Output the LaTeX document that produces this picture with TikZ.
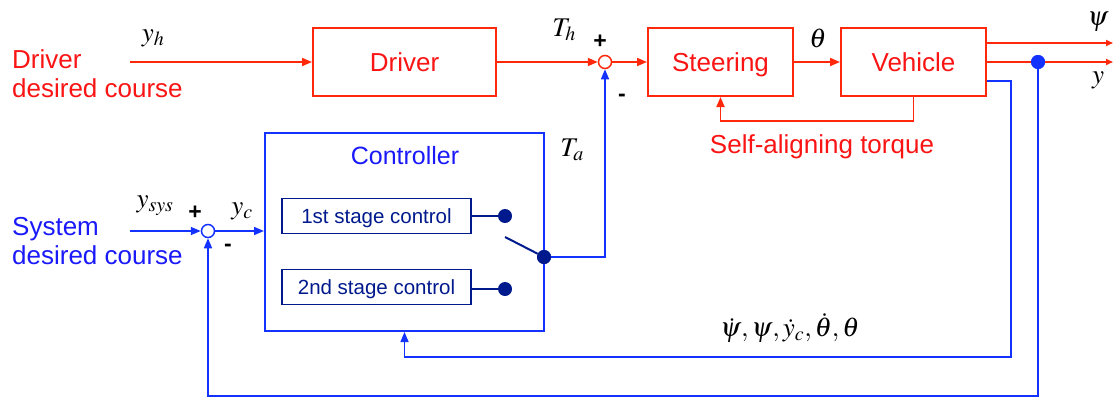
\documentclass[tikz,border=0pt]{standalone}
\usepackage{mathptmx}
\usepackage[no-math]{fontspec}
\setmainfont{Liberation Sans}
\usetikzlibrary{arrows.meta}
\definecolor{cred}{RGB}{255,40,10}
\definecolor{ctxtred}{RGB}{250,20,20}
\definecolor{cblue}{RGB}{20,50,255}
\definecolor{ctxtblue}{RGB}{25,25,250}
\definecolor{cnavy}{RGB}{0,25,140}
\tikzset{
  redbox/.style={draw=cred, line width=2pt, minimum width=183pt, minimum height=68pt, text=ctxtred, font=\fontsize{26}{30}\selectfont, inner sep=0pt, text height=18.7pt, text depth=0pt},
  rl/.style={draw=cred, line width=1.8pt},
  bl/.style={draw=cblue, line width=1.5pt},
  nl/.style={draw=cnavy, line width=2pt},
  arr/.style={-{Triangle[length=10pt,width=8pt]}},
  sumred/.style={circle, draw=cred, fill=white, line width=1.5pt, minimum size=13pt, inner sep=0pt},
  sumblue/.style={circle, draw=cblue, fill=white, line width=1.5pt, minimum size=13pt, inner sep=0pt},
  stagebox/.style={draw=cnavy, line width=1.5pt, minimum width=189pt, minimum height=35pt, inner sep=0pt, text=cnavy, font=\fontsize{20.5}{24}\selectfont, text height=14.8pt, text depth=0pt},
  ndot/.style={circle, fill=cnavy, minimum size=14pt, inner sep=0pt},
  bdot/.style={circle, fill=cblue, minimum size=14pt, inner sep=0pt},
  redtxt/.style={text=ctxtred, font=\fontsize{26}{29}\selectfont, align=left, inner sep=0pt},
  bluetxt/.style={text=ctxtblue, font=\fontsize{26}{29}\selectfont, align=left, inner sep=0pt},
  mlabel/.style={font=\fontsize{27}{30}\selectfont, inner sep=0pt},
  sign/.style={font=\fontsize{23}{26}\selectfont\bfseries, inner sep=0pt},
}
\begin{document}
\begin{tikzpicture}[x=1pt,y=-1pt]
\useasboundingbox (0,0) rectangle (1115,399);
% main red blocks
\node[redbox] (driver) at (404.5,62) {Driver};
\node[redbox, minimum width=145pt] (steer) at (720.5,62) {Steering};
\node[redbox, minimum width=145pt] (veh) at (913.5,62) {Vehicle};
\node[sumred] (sum1) at (605,62) {};
% controller
\node[draw=cblue, line width=2pt, minimum width=279pt, minimum height=198pt, inner sep=0pt] (ctrl) at (404.5,232) {};
\node[text=ctxtblue, font=\fontsize{25}{28}\selectfont, inner sep=0pt] (ctrlt) at (405,156) {Controller};
\node[stagebox] (st1) at (376.5,216) {1st stage control};
\node[stagebox] (st2) at (376.5,287) {2nd stage control};
\node[ndot] (d1) at (505,216) {};
\node[ndot] (d2) at (505,289) {};
\node[ndot] (sw) at (544,257) {};
\coordinate (swtip) at (505,237);
\node[sumblue] (sum2) at (208,231) {};
\node[bdot] (bd) at (1038,62) {};
% texts
\node[redtxt, anchor=west] (drvtxt) at (12,74) {Driver\\desired course};
\node[bluetxt, anchor=west] (systxt) at (12,241) {System\\desired course};
\node[text=ctxtred, font=\fontsize{26}{30}\selectfont, inner sep=0pt] (sat) at (822,147) {Self-aligning torque};
\node[mlabel] (lyh) at (153,38) {$y_h$};
\node[mlabel] (lth) at (564,30) {$T_h$};
\node[mlabel] (lta) at (572,150) {$T_a$};
\node[mlabel] (lth2) at (818,38) {$\theta$};
\node[mlabel] (lpsi) at (1098,22) {$\psi$};
\node[mlabel] (ly) at (1098,80) {$y$};
\node[mlabel] (lys) at (155,206) {$y_{sys}$};
\node[mlabel] (lyc) at (242,211) {$y_c$};
\node[mlabel] (lfb) at (790,328) {$\dot\psi,\psi,\dot y_c,\dot\theta,\theta$};
\node[sign] (p1) at (600,42) {+};
\node[sign] (m1) at (622,98) {-};
\node[sign] (p2) at (195,213) {+};
\node[sign] (m2) at (228,248) {-};
% coordinates
\coordinate (yhs) at (130,62);
\coordinate (ysyss) at (130,231);
\coordinate (psiend) at (1113,43);
\coordinate (yend) at (1113,62);
\coordinate (satlvl) at (0,121);
\coordinate (fb1) at (1011,81);
\coordinate (fb2) at (1011,357);
\coordinate (fb3) at (1038,396);
\coordinate (tacorner) at (605,257);
% red connectors
\draw[rl,arr] (yhs) -- (driver.west);
\draw[rl,arr] (driver.east) -- (sum1.west);
\draw[rl,arr] (sum1.east) -- (steer.west);
\draw[rl,arr] (steer.east) -- (veh.west);
\draw[rl,-{Triangle[length=7pt,width=6pt]}] (veh.east|-psiend) -- (psiend);
\draw[rl,-{Triangle[length=7pt,width=6pt]}] (veh.east) -- (yend);
\draw[rl,arr] (veh.south) -- (veh.south|-satlvl) -| (steer.south);
% blue connectors
\draw[bl,arr] (veh.east|-fb1) -- (fb1) -- (fb2) -| (ctrl.south);
\draw[bl,arr] (bd) -- (fb3) -| (sum2.south);
\draw[bl,arr] (sw) -- (tacorner) -- (sum1.south);
\draw[bl,arr] (ysyss) -- (sum2.west);
\draw[bl,arr] (sum2.east) -- (ctrl.west|-sum2);
\node[bdot] at (bd) {};
% navy
\draw[nl] (st1.east|-d1) -- (d1);
\draw[nl] (st2.east|-d2) -- (d2);
\draw[nl] (swtip) -- (sw);
\node[ndot] at (sw) {};
\end{tikzpicture}
\end{document}
